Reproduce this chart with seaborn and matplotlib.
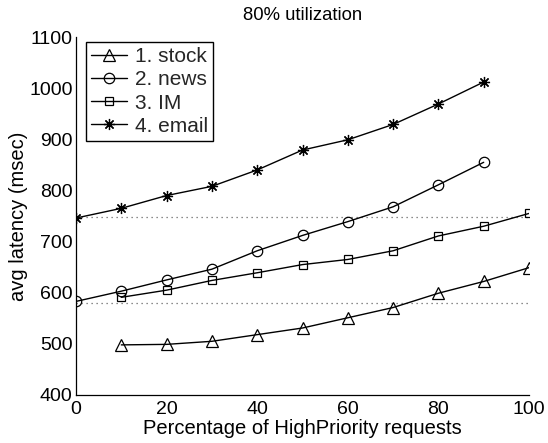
import matplotlib
matplotlib.use("Agg")
import matplotlib.pyplot as plt
import seaborn as sns
import pandas as pd

sns.set_theme(style="white")
plt.rcParams["font.family"] = ["Liberation Sans", "DejaVu Sans"]

# Average latency (msec) versus share of high-priority requests
pct_stock = [10, 20, 30, 40, 50, 60, 70, 80, 90, 100]
lat_stock = [498, 499, 505, 518, 531, 551, 571, 599, 622, 649]

pct_news = [0, 10, 20, 30, 40, 50, 60, 70, 80, 90]
lat_news = [583, 603, 625, 646, 682, 712, 739, 768, 811, 855]

pct_im = [10, 20, 30, 40, 50, 60, 70, 80, 90, 100]
lat_im = [591, 605, 624, 639, 655, 665, 682, 711, 730, 755]

pct_email = [0, 10, 20, 30, 40, 50, 60, 70, 80, 90]
lat_email = [746, 765, 790, 808, 840, 879, 899, 929, 969, 1012]

# Reference levels (dotted)
ref_levels = [748, 579]

series_names = ["1. stock", "2. news", "3. IM", "4. email"]
markers = ["^", "o", "s", (8, 2, 0)]
marker_sizes = [8.5, 7.5, 5.5, 8]

frames = []
for name, xs, ys in zip(series_names,
                        [pct_stock, pct_news, pct_im, pct_email],
                        [lat_stock, lat_news, lat_im, lat_email]):
    frames.append(pd.DataFrame({"pct": xs, "latency": ys, "series": name}))
df = pd.concat(frames, ignore_index=True)

fig = plt.figure(figsize=(5.48, 4.43), dpi=100)
ax = fig.add_axes([76 / 548, 1 - 395 / 443, 453 / 548, 358 / 443])

for lvl in ref_levels:
    ax.plot([0, 100], [lvl, lvl], linestyle=(0, (1, 3)), color="#666666",
            linewidth=0.9, zorder=1)

for name, mk, ms in zip(series_names, markers, marker_sizes):
    sub = df[df["series"] == name]
    sns.lineplot(data=sub, x="pct", y="latency", ax=ax, color="black",
                 linewidth=1.0, marker=mk, markersize=ms,
                 markerfacecolor="none" if mk in ("^", "o", "s") else "black",
                 markeredgecolor="black", markeredgewidth=0.9,
                 label=name, zorder=3)

ax.set_xlim(0, 100)
ax.set_ylim(400, 1100)
ax.set_xticks([0, 20, 40, 60, 80, 100])
ax.set_yticks([400, 500, 600, 700, 800, 900, 1000, 1100])
ax.tick_params(direction="in", length=5, width=0.8, labelsize=14,
               colors="black", pad=2.5)
ax.tick_params(axis="x", pad=4.5)
for side in ("top", "right"):
    ax.spines[side].set_visible(False)
for side in ("left", "bottom"):
    ax.spines[side].set_color("black")
    ax.spines[side].set_linewidth(0.9)

ax.set_xlabel("Percentage of HighPriority requests", fontsize=14.5,
              labelpad=0.6, color="black")
ax.set_ylabel("avg latency (msec)", fontsize=14.5, labelpad=1, color="black")
ax.set_title("80% utilization", fontsize=13.3, pad=12, color="black")

leg = ax.legend(loc="upper left", bbox_to_anchor=(0.022, 0.986),
                fontsize=15, frameon=True, fancybox=False, framealpha=1,
                edgecolor="black", handlelength=1.7, handletextpad=0.4,
                borderpad=0.25, labelspacing=0.2, borderaxespad=0)
leg.get_frame().set_linewidth(1.0)

fig.savefig("out.png", dpi=100)
